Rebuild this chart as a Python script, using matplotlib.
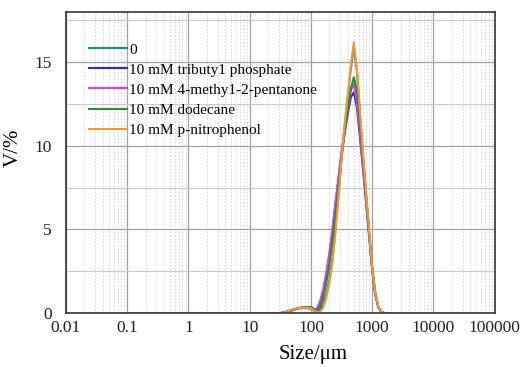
import matplotlib
matplotlib.use("Agg")
import matplotlib.pyplot as plt
import numpy as np
from matplotlib.ticker import FixedLocator, NullFormatter, LogLocator

plt.rcParams['font.family'] = ['Liberation Serif', 'DejaVu Serif']

# particle size classes (um)
size = [0.1, 31.6, 39.8, 50.1, 63.1, 79.4, 100, 112, 126, 141, 158, 178, 200, 224,
        251, 282, 316, 355, 398, 447, 501, 562, 631, 708, 794, 891, 1000, 1122,
        1259, 1413, 1585, 2000]

# volume fraction (%)
v_blank = [0, 0, 0.06, 0.18, 0.3, 0.35, 0.3, 0.17, 0.08, 0.15, 0.45, 1.1, 2.0, 3.2,
           5.0, 7.1, 9.3, 11.2, 12.9, 14.6, 15.9, 14.5, 11.9, 9.4, 7.1, 4.8, 2.6, 1.1,
           0.35, 0.05, 0, 0]
v_tbp = [0, 0, 0.06, 0.18, 0.28, 0.32, 0.26, 0.14, 0.2, 0.6, 1.3, 2.3, 3.5, 4.9,
         6.5, 8.0, 9.5, 10.8, 11.9, 12.9, 13.2, 12.3, 10.5, 8.6, 6.6, 4.6, 2.6, 1.1,
         0.35, 0.05, 0, 0]
v_mibk = [0, 0, 0.1, 0.22, 0.3, 0.33, 0.27, 0.15, 0.3, 0.7, 1.4, 2.4, 3.6, 5.0,
          6.6, 8.2, 9.7, 11.0, 12.2, 13.3, 13.7, 12.6, 10.7, 8.7, 6.7, 4.6, 2.6, 1.1,
          0.35, 0.05, 0, 0]
v_dodec = [0, 0, 0.05, 0.17, 0.3, 0.37, 0.36, 0.25, 0.12, 0.3, 0.9, 1.8, 2.9, 4.3,
           5.9, 7.6, 9.3, 10.8, 12.2, 13.4, 14.1, 13.3, 11.3, 9.1, 7.0, 4.8, 2.7, 1.2,
           0.4, 0.05, 0, 0]
v_pnp = [0, 0, 0.08, 0.2, 0.3, 0.34, 0.28, 0.15, 0.06, 0.1, 0.3, 0.9, 1.8, 3.0,
         4.8, 7.0, 9.3, 11.3, 13.0, 14.8, 16.2, 14.6, 12.0, 9.5, 7.2, 4.9, 2.7, 1.2,
         0.4, 0.05, 0, 0]

labels = ['0', '10 mM tributy1 phosphate', '10 mM 4-methy1-2-pentanone',
          '10 mM dodecane', '10 mM p-nitrophenol']
colors = ['#23858f', '#3b22c8', '#e03ee8', '#2f8a2f', '#ee9a3c']
series = [v_blank, v_tbp, v_mibk, v_dodec, v_pnp]

xticks = [0.01, 0.1, 1, 10, 100, 1000, 10000, 100000]
yticks = [0, 5, 10, 15]

fig = plt.figure(figsize=(5.23, 3.67), dpi=100)
ax = fig.add_axes([0.126, 0.147, 0.82, 0.82])

for v, lab, c in zip(series, labels, colors):
    ax.plot(size, v, color=c, lw=1.5, label=lab)

ax.set_xscale('log')
ax.set_xlim(0.01, 100000)
ax.set_ylim(0, 18)
ax.xaxis.set_major_locator(FixedLocator(xticks))
ax.set_xticklabels([f'{t:g}' if t < 1 else f'{int(t)}' for t in xticks])
ax.xaxis.set_minor_locator(LogLocator(base=10, subs=np.arange(2, 10), numticks=20))
ax.xaxis.set_minor_formatter(NullFormatter())
ax.set_yticks(yticks)
ax.set_yticks([2.5, 7.5, 12.5, 17.5], minor=True)

ax.grid(which='major', color='#a0a0a0', lw=0.9)
ax.grid(which='minor', axis='x', color='#d0d0d0', lw=0.6, ls=(0, (2, 2)))
ax.grid(which='minor', axis='y', color='#c8c8c8', lw=0.7)
ax.set_axisbelow(True)
ax.tick_params(which='both', length=0, labelsize=12.5, colors='#222222')
ax.tick_params(axis='x', pad=5)
ax.tick_params(axis='y', pad=10)
for s in ax.spines.values():
    s.set_linewidth(1.2)
    s.set_color('#333333')

ax.set_xlabel('Size/\u03bcm', fontsize=15)
ax.xaxis.set_label_coords(0.576, -0.105)
ax.set_ylabel('V/%', fontsize=15)
ax.yaxis.set_label_coords(-0.1, 0.55)

ax.legend(loc='upper left', bbox_to_anchor=(0.04, 0.918), frameon=False, fontsize=11,
          handlelength=2.5, handletextpad=0.1, labelspacing=0.42, borderaxespad=0)

fig.savefig('out.png', dpi=100)
